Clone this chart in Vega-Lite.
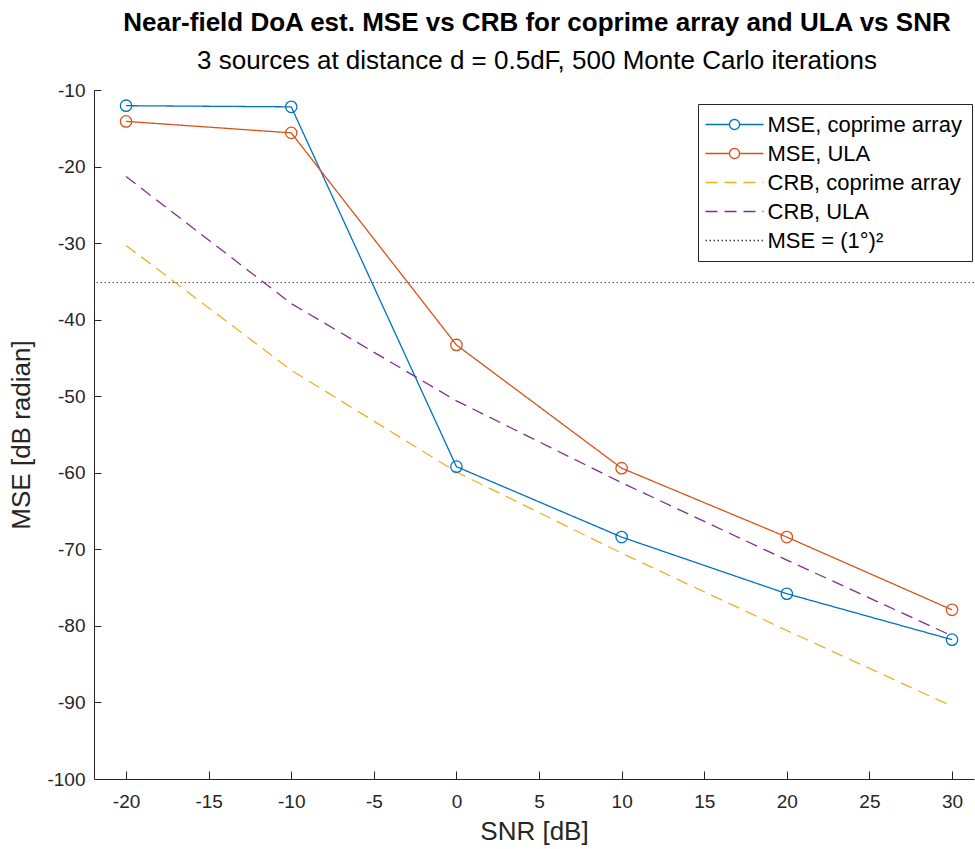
{
  "$schema": "https://vega.github.io/schema/vega-lite/v6.json",
  "width": 880,
  "height": 689,
  "autosize": "none",
  "padding": {"left": 94, "top": 90, "right": 1, "bottom": 70},
  "background": "white",
  "title": {
    "text": "Near-field DoA est. MSE vs CRB for coprime array and ULA vs SNR",
    "subtitle": "3 sources at distance d = 0.5dF, 500 Monte Carlo iterations",
    "anchor": "middle",
    "dx": 3,
    "font": "Liberation Sans",
    "fontSize": 26,
    "fontWeight": "bold",
    "color": "black",
    "subtitleFont": "Liberation Sans",
    "subtitleFontSize": 26,
    "subtitleColor": "black",
    "subtitlePadding": 12,
    "offset": 7
  },
  "config": {
    "view": {"stroke": null},
    "axis": {
      "labelFont": "Liberation Sans",
      "labelFontSize": 19,
      "labelColor": "#262626",
      "labelExpr": "replace(datum.label, '−', '-')",
      "titleFont": "Liberation Sans",
      "titleFontSize": 26,
      "titleFontWeight": "normal",
      "titleColor": "#262626",
      "domainColor": "#262626",
      "tickColor": "#262626",
      "grid": false,
      "labelFlush": false,
      "labelOverlap": false
    }
  },
  "datasets": {
    "curves": [
      {"series": "MSE, coprime array", "snr": -20, "mse": -12.05},
      {"series": "MSE, coprime array", "snr": -10, "mse": -12.2},
      {"series": "MSE, coprime array", "snr": 0, "mse": -59.2},
      {"series": "MSE, coprime array", "snr": 10, "mse": -68.4},
      {"series": "MSE, coprime array", "snr": 20, "mse": -75.8},
      {"series": "MSE, coprime array", "snr": 30, "mse": -81.8},
      {"series": "MSE, ULA", "snr": -20, "mse": -14.1},
      {"series": "MSE, ULA", "snr": -10, "mse": -15.6},
      {"series": "MSE, ULA", "snr": 0, "mse": -43.3},
      {"series": "MSE, ULA", "snr": 10, "mse": -59.4},
      {"series": "MSE, ULA", "snr": 20, "mse": -68.4},
      {"series": "MSE, ULA", "snr": 30, "mse": -77.9},
      {"series": "CRB, coprime array", "snr": -20, "mse": -30.3},
      {"series": "CRB, coprime array", "snr": -10, "mse": -46.6},
      {"series": "CRB, coprime array", "snr": 0, "mse": -59.9},
      {"series": "CRB, coprime array", "snr": 10, "mse": -70.5},
      {"series": "CRB, coprime array", "snr": 20, "mse": -80.6},
      {"series": "CRB, coprime array", "snr": 30, "mse": -90.5},
      {"series": "CRB, ULA", "snr": -20, "mse": -21.3},
      {"series": "CRB, ULA", "snr": -10, "mse": -37.9},
      {"series": "CRB, ULA", "snr": 0, "mse": -50.6},
      {"series": "CRB, ULA", "snr": 10, "mse": -61.3},
      {"series": "CRB, ULA", "snr": 20, "mse": -71.4},
      {"series": "CRB, ULA", "snr": 30, "mse": -81.3}
    ],
    "ref": [
      {"series": "MSE = (1°)²", "mse": -35.16}
    ]
  },
  "layer": [
    {
      "data": {"name": "ref"},
      "mark": {"type": "rule", "strokeWidth": 1},
      "encoding": {
        "y": {"field": "mse", "type": "quantitative", "scale": {"domain": [-100, -10], "nice": false, "zero": false}},
        "color": {"field": "series", "type": "nominal"},
        "strokeDash": {"field": "series", "type": "nominal"}
      }
    },
    {
      "data": {"name": "curves"},
      "mark": {"type": "line", "strokeWidth": 1.3},
      "encoding": {
        "x": {
          "field": "snr", "type": "quantitative",
          "scale": {"domain": [-21.94, 31.33], "nice": false, "zero": false},
          "axis": {"title": "SNR [dB]", "values": [-20, -15, -10, -5, 0, 5, 10, 15, 20, 25, 30], "tickSize": -8, "labelPadding": 21, "titlePadding": 7}
        },
        "y": {
          "field": "mse", "type": "quantitative",
          "scale": {"domain": [-100, -10], "nice": false, "zero": false},
          "axis": {"title": "MSE [dB radian]", "values": [-100, -90, -80, -70, -60, -50, -40, -30, -20, -10], "tickSize": -7, "labelPadding": 16, "titlePadding": 12}
        },
        "color": {
          "field": "series", "type": "nominal",
          "scale": {
            "domain": ["MSE, coprime array", "MSE, ULA", "CRB, coprime array", "CRB, ULA", "MSE = (1°)²"],
            "range": ["#0072BD", "#D95319", "#EDB120", "#7E2F8E", "#404040"]
          },
          "legend": {
            "title": null,
            "orient": "none",
            "legendX": 604,
            "legendY": 14,
            "fillColor": "white",
            "strokeColor": "#262626",
            "padding": 9.5,
            "labelFont": "Liberation Sans",
            "labelFontSize": 22,
            "labelColor": "black",
            "labelLimit": 0,
            "labelOffset": 38,
            "rowPadding": 7,
            "symbolSize": 400,
            "symbolStrokeWidth": 1.3,
            "encode": {
              "symbols": {
                "update": {
                  "shape": {"signal": "indexof(datum.value, 'MSE, ') === 0 ? 'M-1.3,0L1.1,0M2.1,0A0.5,0.5,0,1,1,1.1,0A0.5,0.5,0,1,1,2.1,0M2.1,0L4.5,0' : 'M-1.3,0L4.5,0'"},
                  "fill": {"value": "transparent"}
                }
              }
            }
          }
        },
        "strokeDash": {
          "field": "series", "type": "nominal",
          "scale": {
            "domain": ["MSE, coprime array", "MSE, ULA", "CRB, coprime array", "CRB, ULA", "MSE = (1°)²"],
            "range": [[1, 0], [1, 0], [12, 7], [12, 7], [1.5, 2.5]]
          }
        }
      }
    },
    {
      "data": {"name": "curves"},
      "transform": [{"filter": "indexof(datum.series, 'MSE, ') === 0"}],
      "mark": {"type": "point", "filled": false, "size": 130, "strokeWidth": 1.3, "opacity": 1},
      "encoding": {
        "x": {"field": "snr", "type": "quantitative"},
        "y": {"field": "mse", "type": "quantitative"},
        "color": {"field": "series", "type": "nominal"}
      }
    }
  ]
}
